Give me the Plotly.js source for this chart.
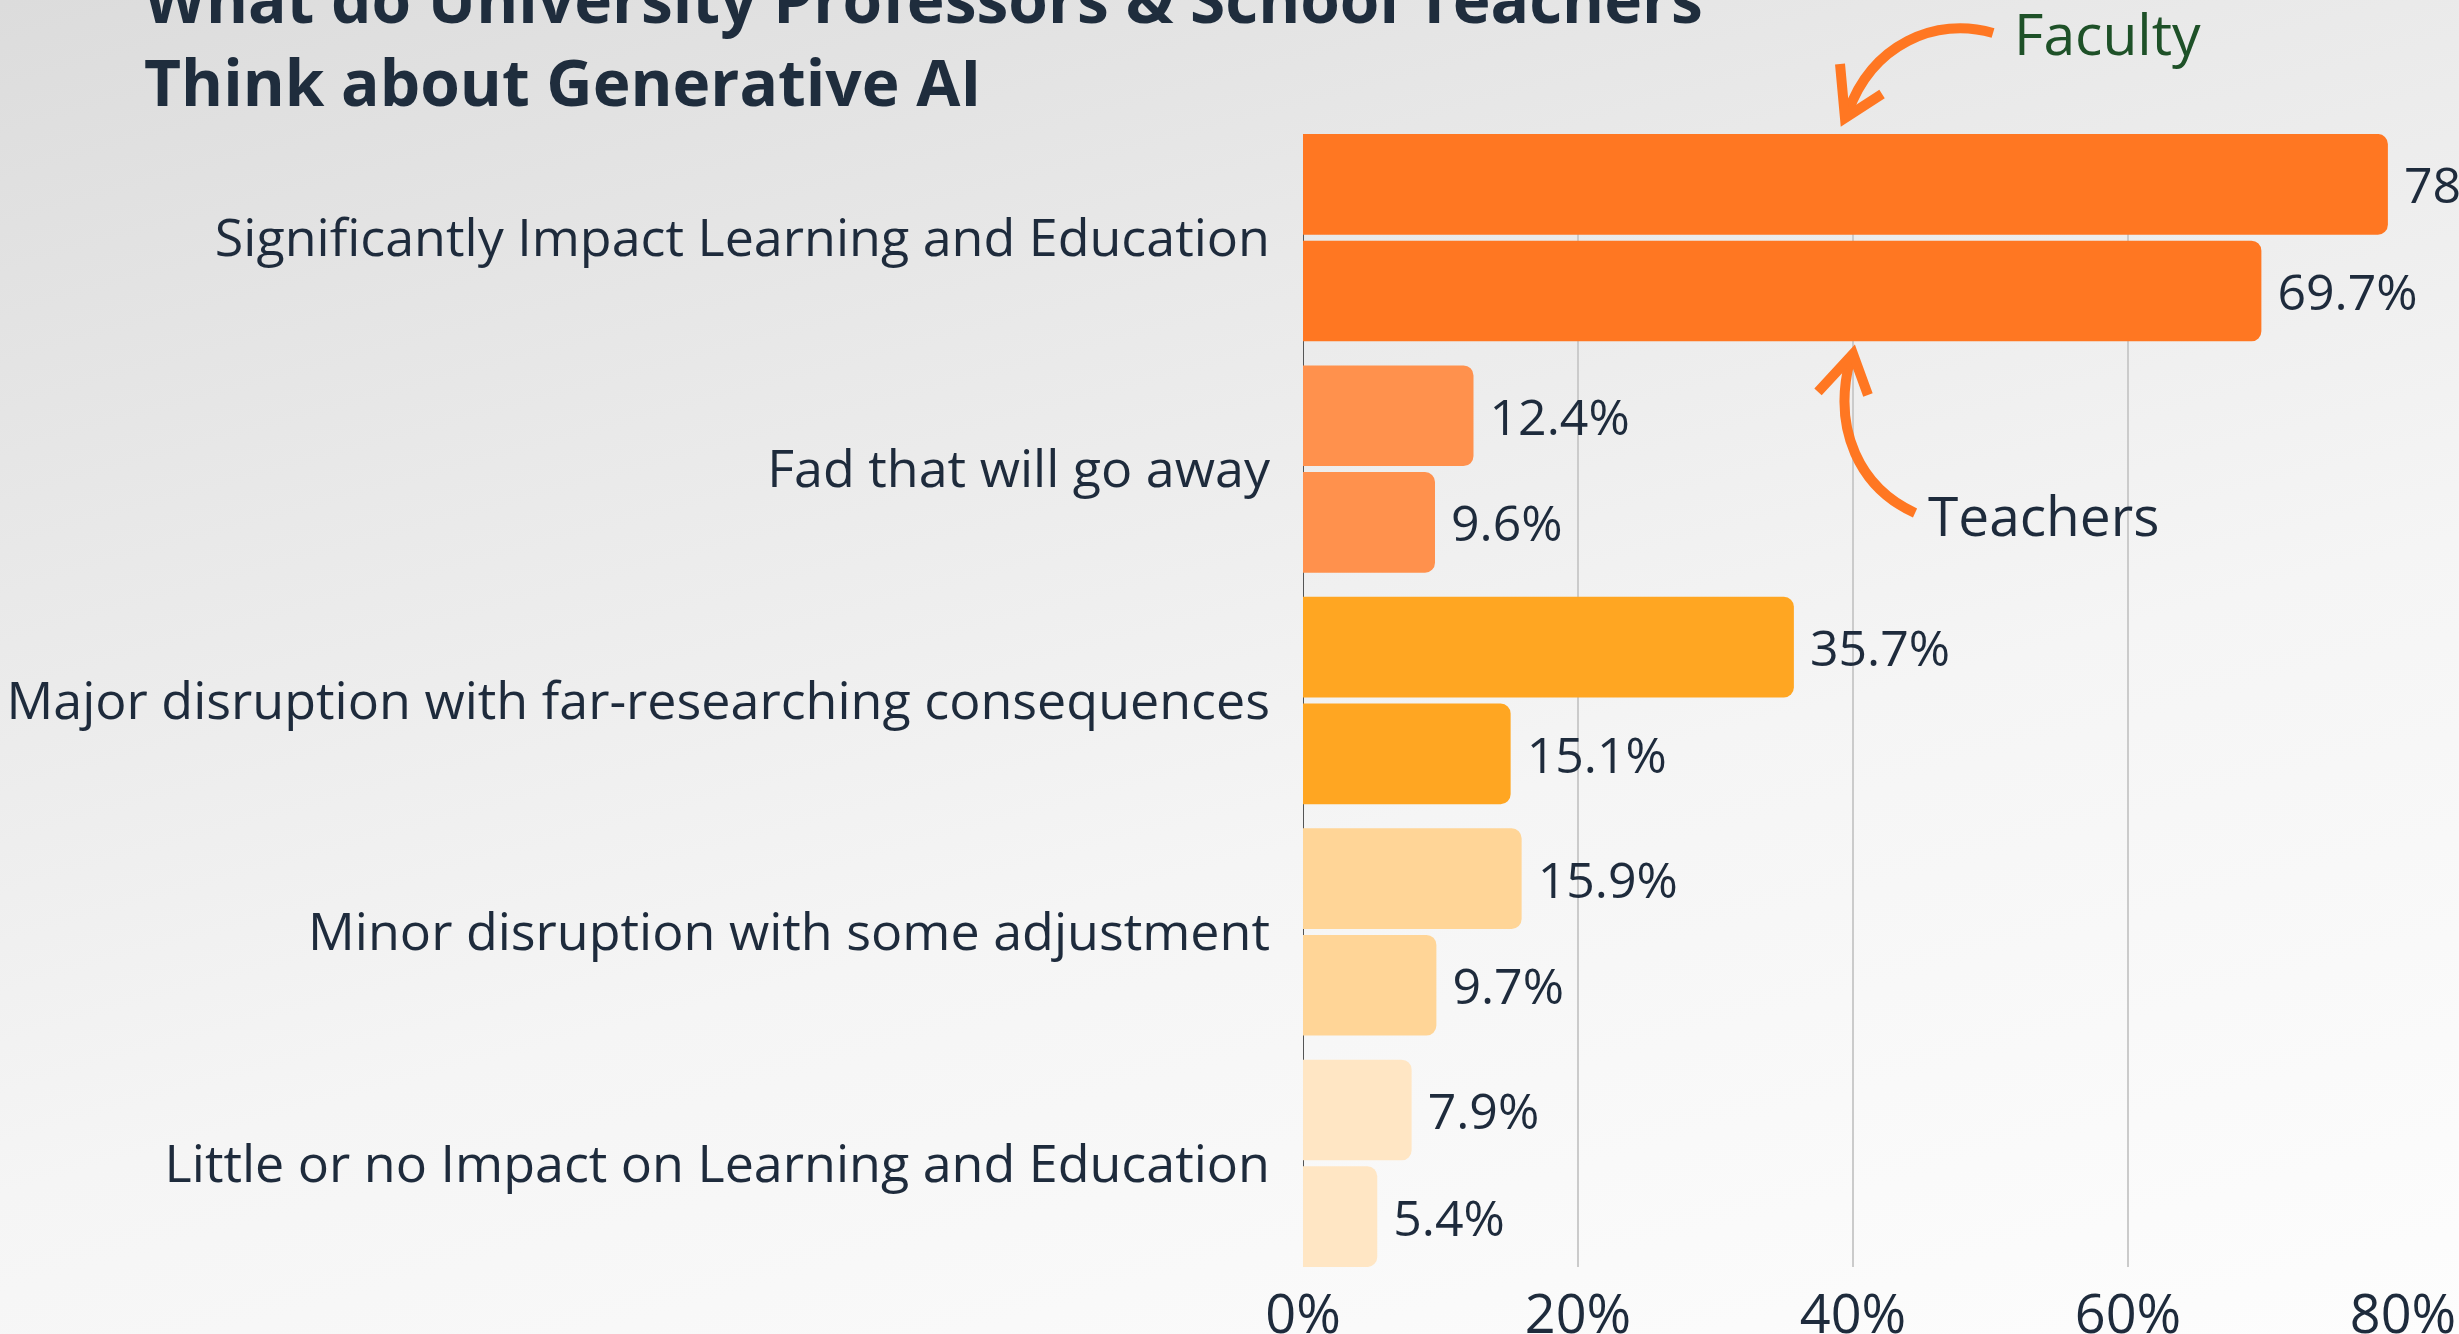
<!DOCTYPE html>
<html>
<head>
<meta charset="utf-8">
<script src="https://cdn.plot.ly/plotly-3.0.1.min.js"></script>
<style>
  html, body { margin: 0; padding: 0; }
  body {
    width: 2459px; height: 1334px; overflow: hidden;
    background: linear-gradient(165deg, #dcdcdc 0%, #e9e9e9 30%, #f5f5f5 60%, #fdfdfd 100%);
  }
  #chart { width: 2459px; height: 1334px; }
</style>
</head>
<body>
<div id="chart"></div>
<script>
// ---- data ----
const categories = [
  "Significantly Impact Learning and Education",
  "Fad that will go away",
  "Major disruption with far-researching consequences",
  "Minor disruption with some adjustment",
  "Little or no Impact on Learning and Education"
];
const facultyValues = [78.9, 12.4, 35.7, 15.9, 7.9];
const teacherValues = [69.7, 9.6, 15.1, 9.7, 5.4];
const categoryColors = ["#FF7722", "#FF914D", "#FFA622", "#FFD597", "#FFE6C4"];
const tickValues = [0, 20, 40, 60, 80];
const tickLabels = ["0%", "20%", "40%", "60%", "80%"];

// ---- layout helpers (pixel -> paper for decorations) ----
const W = 2459, H = 1334;
const L = 1303, R = 2403, T = 134, B = 1267;
function px(x) { return (x - L) / (R - L); }
function py(y) { return (B - y) / (B - T); }
function P(x, y) { return px(x).toFixed(4) + "," + py(y).toFixed(4); }

const textColor = "#1E2B3C";
const fontFam = "'Open Sans', 'Noto Sans', sans-serif";

const traceBase = {
  type: "bar",
  orientation: "h",
  y: categories,
  texttemplate: "\u00a0%{x}%",
  textposition: "outside",
  cliponaxis: false,
  textfont: { family: fontFam, size: 50, color: textColor },
  marker: { color: categoryColors, cornerradius: 10, line: { width: 0 } },
  hoverinfo: "x+y+name"
};

const data = [
  Object.assign({}, traceBase, { name: "Faculty", x: facultyValues }),
  Object.assign({}, traceBase, { name: "Teachers", x: teacherValues })
];

const arrowColor = "#FF7722";
const arrowLine = { color: arrowColor, width: 10 };

const shapes = [
  // Faculty arrow curve
  { type: "path", xref: "paper", yref: "paper",
    path: "M" + P(1993, 33) + " C" + P(1935, 16) + " " + P(1872, 45) + " " + P(1848, 112),
    line: arrowLine },
  // Faculty arrow head
  { type: "path", xref: "paper", yref: "paper",
    path: "M" + P(1840, 64) + " L" + P(1845, 118) + " L" + P(1882, 94),
    line: arrowLine },
  // Teachers arrow curve
  { type: "path", xref: "paper", yref: "paper",
    path: "M" + P(1915, 513) + " C" + P(1860, 488) + " " + P(1832, 430) + " " + P(1850, 360),
    line: arrowLine },
  // Teachers arrow head
  { type: "path", xref: "paper", yref: "paper",
    path: "M" + P(1818, 392) + " L" + P(1853, 354) + " L" + P(1868, 395),
    line: arrowLine }
];

const annotations = [
  { xref: "paper", yref: "paper", x: px(2012), y: py(33), xanchor: "left", yanchor: "middle",
    text: "Faculty", showarrow: false,
    font: { family: fontFam, size: 57, color: "#1E5128" } },
  { xref: "paper", yref: "paper", x: px(1926), y: py(514), xanchor: "left", yanchor: "middle",
    text: "Teachers", showarrow: false,
    font: { family: fontFam, size: 55, color: textColor } }
];

const layout = {
  width: W, height: H,
  paper_bgcolor: "rgba(0,0,0,0)",
  plot_bgcolor: "rgba(0,0,0,0)",
  margin: { l: L, r: W - R, t: T, b: H - B, pad: 0 },
  showlegend: false,
  barmode: "group",
  bargap: 0.078,
  bargroupgap: 0.056,
  title: {
    text: "What do University Professors & School Teachers<br>Think about Generative AI",
    font: { family: fontFam, size: 64, color: "#1F2D3D", weight: 700 },
    xref: "container", yref: "container",
    x: 144 / W, xanchor: "left",
    y: 1 - 23 / H, yanchor: "bottom"
  },
  xaxis: {
    range: [0, 80],
    tickvals: tickValues,
    ticktext: tickLabels,
    showgrid: true,
    gridcolor: "#CBCBCB",
    gridwidth: 1.5,
    zeroline: true,
    zerolinecolor: "#555555",
    zerolinewidth: 1,
    showline: false,
    ticks: "",
    ticklabelstandoff: 11,
    tickfont: { family: fontFam, size: 54, color: textColor },
    fixedrange: true
  },
  yaxis: {
    type: "category",
    categoryorder: "array",
    categoryarray: categories,
    range: [4.448, -0.448],
    showgrid: false,
    zeroline: false,
    showline: false,
    ticks: "",
    ticklabelstandoff: 32,
    tickfont: { family: fontFam, size: 52, color: textColor },
    fixedrange: true
  },
  shapes: shapes,
  annotations: annotations
};

Plotly.newPlot("chart", data, layout, { displayModeBar: false, staticPlot: true });
</script>
</body>
</html>
